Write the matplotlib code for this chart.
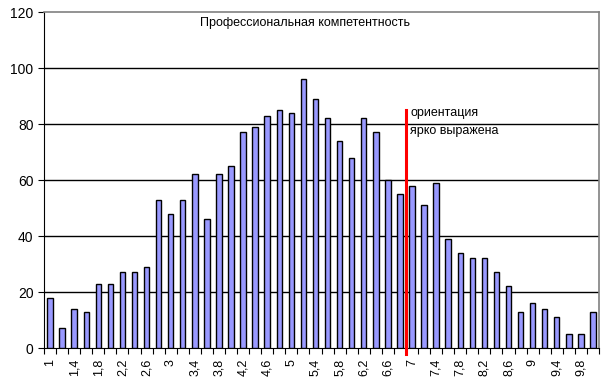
import numpy as np
import matplotlib
matplotlib.use("Agg")
import matplotlib.pyplot as plt

plt.rcParams['font.family'] = ['Liberation Sans', 'DejaVu Sans']

# score categories 1.0 .. 10.0 step 0.2
scores = [1.0, 1.2, 1.4, 1.6, 1.8, 2.0, 2.2, 2.4, 2.6, 2.8,
          3.0, 3.2, 3.4, 3.6, 3.8, 4.0, 4.2, 4.4, 4.6, 4.8,
          5.0, 5.2, 5.4, 5.6, 5.8, 6.0, 6.2, 6.4, 6.6, 6.8,
          7.0, 7.2, 7.4, 7.6, 7.8, 8.0, 8.2, 8.4, 8.6, 8.8,
          9.0, 9.2, 9.4, 9.6, 9.8, 10.0]
counts = [18, 7, 14, 13, 23, 23, 27, 27, 29, 53,
          48, 53, 62, 46, 62, 65, 77, 79, 83, 85,
          84, 96, 89, 82, 74, 68, 82, 77, 60, 55,
          58, 51, 59, 39, 34, 32, 32, 27, 22, 13,
          16, 14, 11, 5, 5, 13]

title = "Профессиональная компетентность"
marker_text = "ориентация\nярко выражена"

fig = plt.figure(figsize=(6.01, 3.89), dpi=100)
ax = fig.add_axes([44 / 601, 41 / 389, 555 / 601, 336 / 389])

x = np.arange(len(scores))
ax.bar(x, counts, width=0.45, color="#9999ff", edgecolor="black", linewidth=1.0, zorder=3)

ax.set_xlim(-0.5, len(scores) - 0.5)
ax.set_ylim(0, 120)
ax.set_yticks(range(0, 121, 20))
for y in range(20, 120, 20):
    ax.axhline(y, color="black", linewidth=1.0, zorder=1)

# ticks between categories, labels on every other bar
ax.set_xticks(np.arange(-0.5, len(scores), 1.0))
ax.set_xticklabels([])
ax.set_xticks(x[::2], minor=True)
labels = [("%g" % s).replace(".", ",") for s in scores[::2]]
ax.set_xticklabels(labels, minor=True, rotation=90, fontsize=9)
ax.tick_params(axis="x", which="major", length=4, direction="out", color="black")
ax.tick_params(axis="x", which="minor", length=0, pad=8)
ax.tick_params(axis="y", length=4, labelsize=10, color="black")

for side in ["top", "right"]:
    ax.spines[side].set_color("#808080")
    ax.spines[side].set_linewidth(1.2)
for side in ["left", "bottom"]:
    ax.spines[side].set_color("black")

# red threshold line between 6,8 and 7
ix = scores.index(6.8) + 0.5
ax.plot([ix, ix], [-2, 85], color="red", linewidth=2.2, zorder=4, clip_on=False)
ax.text(ix + 0.35, 86, marker_text, fontsize=9, va="top", ha="left", linespacing=1.6, zorder=5)

ax.text(0.471, 0.985, title, transform=ax.transAxes, fontsize=9, ha="center", va="top")

fig.savefig("out.png", dpi=100)
